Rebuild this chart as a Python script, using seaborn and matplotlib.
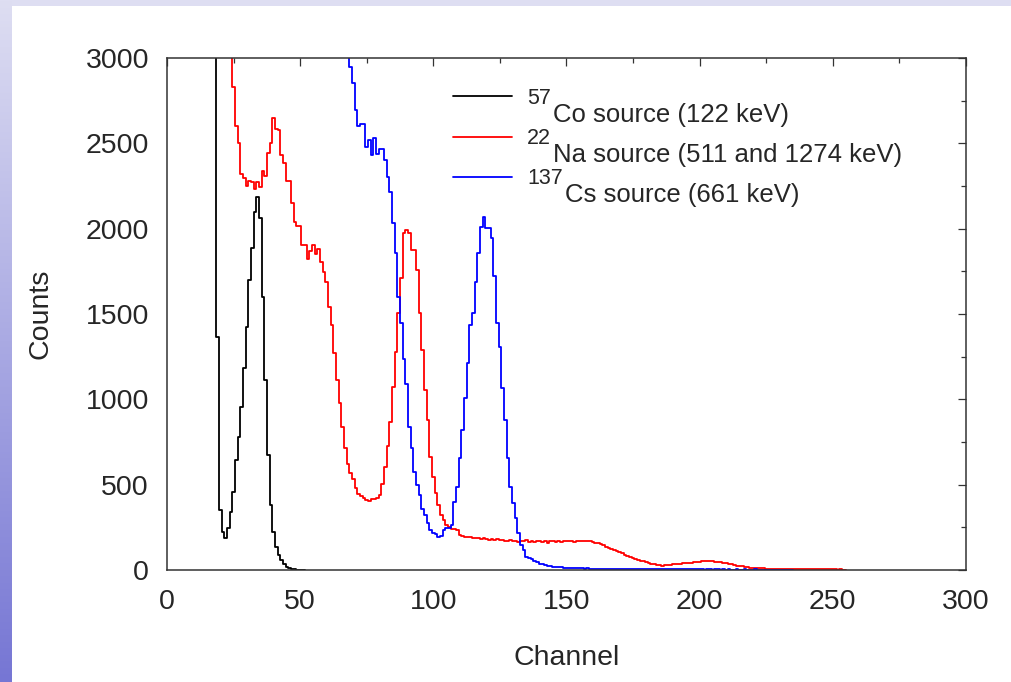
import numpy as np
import pandas as pd
import matplotlib
matplotlib.use('Agg')
import matplotlib.pyplot as plt
import matplotlib.transforms as mtransforms
from matplotlib.ticker import MultipleLocator
import seaborn as sns

# spectra, one value per channel
co_first = 18
co_counts = [5000, 1367, 351, 225, 187, 246, 342, 459, 644, 781,
             957, 1183, 1426, 1699, 1887, 2100, 2188, 2063, 1601, 1113,
             674, 381, 225, 137, 88, 59, 35, 20, 12, 6,
             3, 1, 0, 0, 0]

na_first = 24
na_counts = [4000, 2832, 2601, 2500, 2320, 2295, 2250, 2279, 2275, 2231,
             2275, 2246, 2338, 2309, 2441, 2504, 2646, 2584, 2578, 2432,
             2383, 2279, 2279, 2149, 2041, 2017, 2017, 1904, 1904, 1820,
             1871, 1904, 1852, 1879, 1807, 1748, 1690, 1543, 1436, 1270,
             1114, 977, 836, 713, 621, 567, 531, 479, 445, 436,
             420, 410, 404, 418, 414, 420, 440, 502, 605, 727,
             869, 1075, 1280, 1508, 1709, 1973, 1993, 1973, 1875, 1875,
             1758, 1504, 1290, 1055, 879, 664, 547, 449, 381, 322,
             293, 264, 254, 238, 238, 234, 205,
             200, 196, 192, 195, 188, 190, 186, 184, 188, 182,
             178, 183, 176, 180, 174, 178, 172, 170, 176, 168,
             172, 165, 170, 168, 174, 166, 170, 163, 168, 172,
             165, 170, 160, 167, 171, 165, 168, 162, 170, 167,
             172, 168, 165, 170, 168, 172, 170, 167, 168, 165,
             160, 156, 150, 144, 137, 131, 124, 117, 110, 104,
             97, 90, 84, 78, 72, 65, 60, 55, 50, 45,
             41, 37, 33, 30, 28, 26, 27, 30, 32, 35,
             34, 37, 38, 40, 41, 40, 42, 44, 47, 48,
             50, 51, 53, 52, 50, 49, 47, 45, 42, 40,
             37, 33, 29, 26, 23, 21, 19, 16, 14, 12,
             11, 10, 9, 9, 8, 8, 7, 8, 7, 7,
             6, 7, 6, 6, 5, 6, 5, 5, 4, 5,
             4, 4, 5, 4, 3, 4, 3, 3, 4, 3,
             3, 2, 3, 2, 2]

cs_first = 68
cs_counts = [4000, 2949, 2852, 2695, 2602, 2614, 2614, 2480, 2520, 2432,
             2529, 2438, 2467, 2467, 2402, 2304, 2217, 2031, 1855, 1602,
             1446, 1234, 1090, 840, 713, 576, 498, 440, 356, 324,
             278, 236, 215, 210, 191, 200, 236, 244, 244, 264,
             401, 488, 654, 820, 1006, 1211, 1436, 1504, 1690, 1855,
             2012, 2070, 2002, 2002, 1943, 1723, 1446, 1309, 1065, 879,
             654, 488, 391, 303, 215, 147, 117, 78, 70, 63,
             52, 46, 38, 35, 32, 26, 22, 20, 19, 17,
             15, 14, 13, 11, 10, 11, 9, 10, 9, 8,
             9, 8, 7, 8, 7, 6, 7, 6, 6, 5,
             6, 5, 5, 6, 5, 4, 5, 4, 5, 4,
             4, 5, 4, 4, 3, 4, 4, 3, 4, 3,
             4, 3, 3, 4, 3, 3, 4, 3, 3, 3,
             4, 3, 3, 3, 2, 3, 3, 2, 3, 3,
             2, 3, 2, 3, 2, 2, 3, 2, 2, 3,
             2, 2, 2, 3, 2, 2, 2, 2, 2, 2,
             2, 2, 2, 2, 2, 2, 2, 2]

sources = ['Co', 'Na', 'Cs']
mass_numbers = ['57', '22', '137']
source_text = ['Co source (122 keV)', 'Na source (511 and 1274 keV)', 'Cs source (661 keV)']
line_colors = ['#000000', '#ff0000', '#0000ff']

frames = []
for name, first, counts in zip(sources, [co_first, na_first, cs_first],
                               [co_counts, na_counts, cs_counts]):
    frames.append(pd.DataFrame({'channel': first + np.arange(len(counts)),
                                'counts': counts, 'source': name}))
df = pd.concat(frames, ignore_index=True)

sns.set_style('white')
plt.rcParams['font.family'] = ['Liberation Sans', 'DejaVu Sans']

fig = plt.figure(figsize=(10.12, 6.82), dpi=100, facecolor='white')

# lavender band at the top and gradient strip down the left edge
fig.add_artist(plt.Rectangle((0, 1 - 6 / 682), 1, 6 / 682, transform=fig.transFigure,
                             facecolor='#dedef2', edgecolor='none', zorder=0))
strip = fig.add_axes([0, 0, 12 / 1012, 1])
top_c = np.array([222, 222, 242]) / 255
bot_c = np.array([118, 118, 212]) / 255
t = np.linspace(0, 1, 256)[:, None]
grad = (top_c * (1 - t) + bot_c * t)[:, None, :]
strip.imshow(grad, aspect='auto', extent=[0, 1, 0, 1])
strip.axis('off')

ax = fig.add_axes([167 / 1012, 112 / 682, 799 / 1012, 512 / 682])
sns.lineplot(data=df, x='channel', y='counts', hue='source', hue_order=sources,
             palette=line_colors, estimator=None, drawstyle='steps-mid',
             linewidth=1.3, legend=False, ax=ax)

ax.set_xlim(0, 300)
ax.set_ylim(0, 3000)
ax.xaxis.set_major_locator(MultipleLocator(50))
ax.xaxis.set_minor_locator(MultipleLocator(25))
ax.yaxis.set_major_locator(MultipleLocator(500))
ax.yaxis.set_minor_locator(MultipleLocator(250))
ax.tick_params(which='both', direction='in', top=True, right=True,
               width=0.9, color='#333333', labelsize=20.5)
ax.tick_params(which='major', length=6)
ax.tick_params(which='minor', length=3.6)
ax.tick_params(axis='y', pad=13)
ax.tick_params(axis='x', pad=14)
for s in ax.spines.values():
    s.set_color('#333333')
    s.set_linewidth(1.1)

ax.set_xlabel('Channel', fontsize=20.5)
ax.set_ylabel('Counts', fontsize=20.5)
ax.xaxis.set_label_coords(0.5, -0.147)
ax.yaxis.set_label_coords(-0.142, 0.5)

leg = ax.legend(ax.get_lines()[:3], mass_numbers, loc='upper left',
                bbox_to_anchor=(453 / 1012, 1 - 88 / 682),
                bbox_transform=fig.transFigure, frameon=False, fontsize=15.5,
                handlelength=2.75, handletextpad=0.7, labelspacing=0.89,
                borderpad=0, borderaxespad=0)

fig.canvas.draw()
renderer = fig.canvas.get_renderer()
for txt, rest in zip(leg.get_texts(), source_text):
    bb = txt.get_window_extent(renderer)
    fig.text(bb.x1 + 2, bb.y0 + 6, rest, fontsize=18.5, va='top', ha='left',
             transform=mtransforms.IdentityTransform())

fig.savefig('out.png', dpi=100, facecolor='white')
